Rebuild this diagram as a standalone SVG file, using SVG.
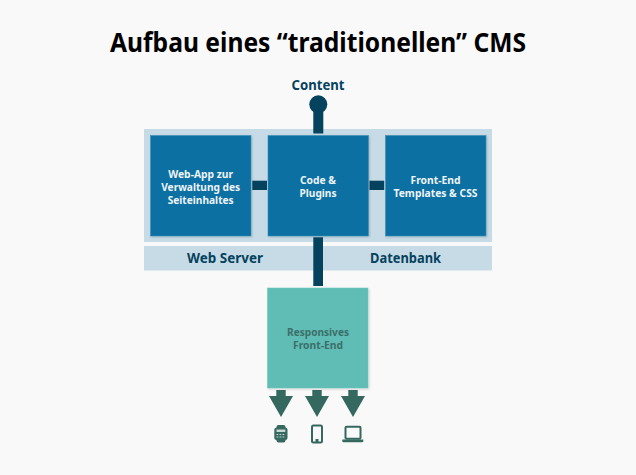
<svg xmlns="http://www.w3.org/2000/svg" width="636" height="475" viewBox="0 0 636 475">
<style>
text{font-family:"Noto Sans","Open Sans","Liberation Sans",sans-serif;font-weight:700;text-anchor:middle}
.panel{fill:#c7dbe7}
.box{fill:#0870a2;stroke:#3f8fb5;stroke-width:.6;filter:url(#s)}
.w{fill:#eef4f8;font-size:10.500px}
.d{fill:#05425e}
.lab{fill:#05425e;font-size:14px}
.g{fill:#35685f}
.ol{fill:none;stroke:#35685f}
</style>
<defs>
<filter id="s" x="-5%" y="-5%" width="112%" height="112%"><feDropShadow dx="1" dy="1" stdDeviation="1" flood-color="#000" flood-opacity=".18"/></filter>
<path id="arrow" class="g" d="M-4.700 0H4.700V6H12L0 27-12 6H-4.700Z"/>
</defs>
<rect width="636" height="475" fill="#f9f9f9"/>
<text x="318" y="52" font-size="26" fill="#000" textLength="416" lengthAdjust="spacingAndGlyphs">Aufbau eines “traditionellen” CMS</text>
<g id="panel-top"><rect class="panel" x="144" y="129" width="348" height="113"/></g>
<g id="panel-bottom"><rect class="panel" x="144" y="246" width="348" height="24.500"/>
<text class="lab" x="225" y="263" textLength="76" lengthAdjust="spacingAndGlyphs">Web Server</text>
<text class="lab" x="405.500" y="263" textLength="71" lengthAdjust="spacingAndGlyphs">Datenbank</text></g>
<g id="connectors">
<circle class="d" cx="318.300" cy="104.300" r="9"/>
<rect class="d" x="313.300" y="104" width="10" height="29.500"/>
<rect class="d" x="252.300" y="180.700" width="14.700" height="9.300"/>
<rect class="d" x="369.500" y="180.700" width="14.700" height="9.300"/>
<rect class="d" x="313.300" y="237.300" width="9.700" height="48.700"/>
<use href="#arrow" x="281" y="390"/>
<use href="#arrow" x="317" y="390"/>
<use href="#arrow" x="353" y="390"/>
</g>
<g id="content"><text x="318" y="90" font-size="13.500" fill="#05425e" textLength="53" lengthAdjust="spacingAndGlyphs">Content</text></g>
<g id="webapp"><rect class="box" x="150.500" y="135.500" width="100.500" height="100.500"/>
<text class="w" x="200.700" y="177.500" textLength="65" lengthAdjust="spacingAndGlyphs">Web-App zur</text>
<text class="w" x="200.700" y="190.500" textLength="79" lengthAdjust="spacingAndGlyphs">Verwaltung des</text>
<text class="w" x="200.700" y="203.500" textLength="66" lengthAdjust="spacingAndGlyphs">Seiteinhaltes</text></g>
<g id="code"><rect class="box" x="268" y="135.500" width="100.500" height="100.500"/>
<text class="w" x="318" y="184" textLength="36" lengthAdjust="spacingAndGlyphs">Code &amp;</text>
<text class="w" x="318" y="197" textLength="37" lengthAdjust="spacingAndGlyphs">Plugins</text></g>
<g id="frontend"><rect class="box" x="385.500" y="135.500" width="100.500" height="100.500"/>
<text class="w" x="435.500" y="184" textLength="50" lengthAdjust="spacingAndGlyphs">Front-End</text>
<text class="w" x="435.500" y="197" textLength="84" lengthAdjust="spacingAndGlyphs">Templates &amp; CSS</text></g>
<g id="responsive"><rect x="267.500" y="288" width="100.500" height="100" fill="#5fbdb5" stroke="#6fc3bc" stroke-width=".5" filter="url(#s)"/>
<text x="318" y="335.500" font-size="10.500" fill="#3c6f69" textLength="62" lengthAdjust="spacingAndGlyphs">Responsives</text>
<text x="318" y="348.500" font-size="10.500" fill="#3c6f69" textLength="50" lengthAdjust="spacingAndGlyphs">Front-End</text></g>
<g id="watch"><rect class="g" x="276.500" y="425" width="9" height="17.500" rx="2"/><rect class="g" x="274.300" y="427.500" width="13.200" height="12.500" rx="2.500"/>
<rect x="276.500" y="429.500" width="8.800" height="2.500" fill="#c5d6d3"/><path d="M276.500 434.500h8.800M276.500 437h8.800" stroke="#c5d6d3" stroke-width="1" stroke-dasharray="1.800 1.200"/></g>
<g id="phone"><rect class="ol" x="312" y="425.500" width="10" height="17" rx="1.500" stroke-width="2"/><rect class="g" x="315.500" y="439" width="3" height="3"/></g>
<g id="laptop"><rect class="ol" x="345.500" y="426.700" width="15" height="12" rx="1" stroke-width="2"/><path class="g" d="M342.300 439.500H363.300V441Q363.300 442.300 362 442.300H343.600Q342.300 442.300 342.300 441Z"/></g>
</svg>
